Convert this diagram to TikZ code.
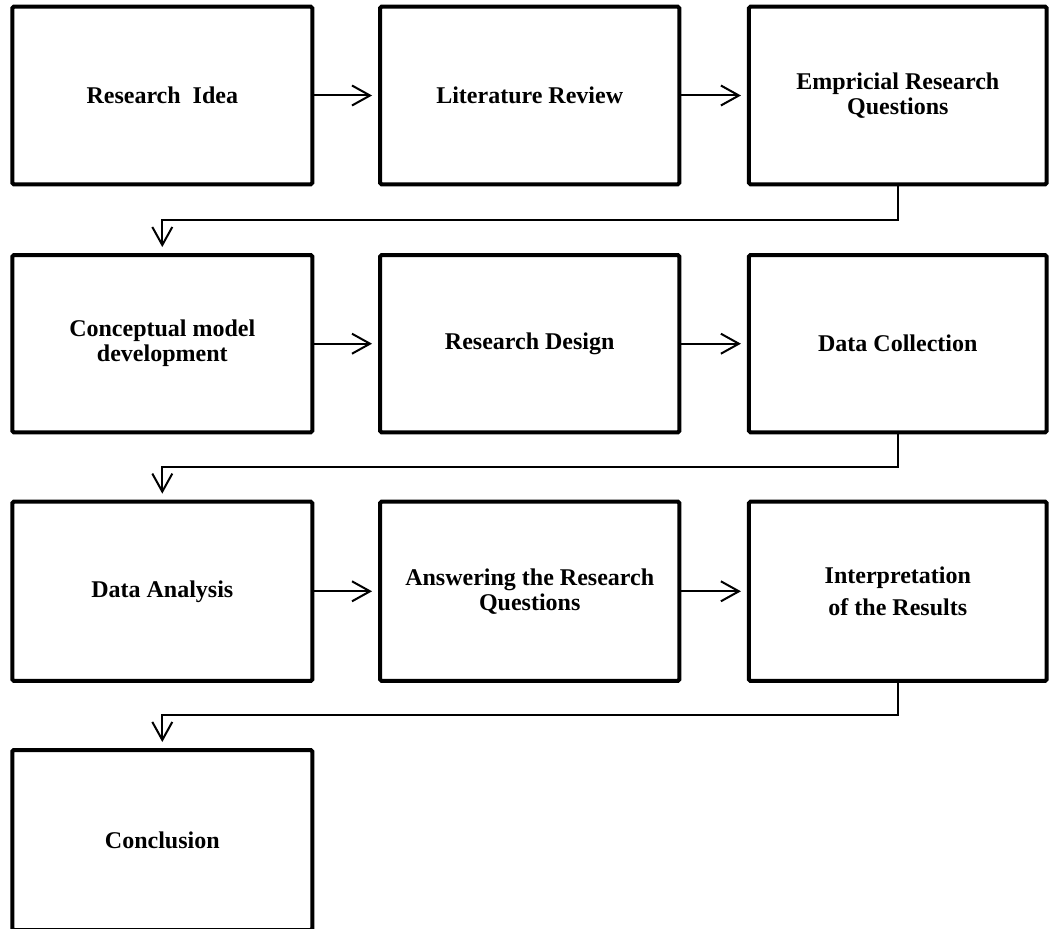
\documentclass[tikz,border=0pt]{standalone}
\usepackage{fontspec}
\setmainfont{Liberation Serif}
\usetikzlibrary{arrows.meta,calc}

\tikzset{
  stepbox/.style={draw=black, line width=4pt, rounded corners=1.5pt,
    align=center, inner sep=4pt,
    font=\fontsize{24}{25}\selectfont\bfseries},
  flow/.style={draw=black, line width=2pt,
    -{Straight Barb[length=18pt,width=20pt,line width=2pt]},
    shorten >=6pt},
  elbow/.style={flow}
}

\begin{document}
\begin{tikzpicture}[x=1pt,y=-1pt]
  \useasboundingbox (0,0) rectangle (1051,928);

  % first row
  \node[stepbox, minimum width=300pt, minimum height=177.6pt] (idea) at (162.3,95.5) {Research\ \ Idea};
  \node[stepbox, minimum width=299.3pt, minimum height=177.6pt] (lit) at (529.7,95.5) {Literature Review};
  \node[stepbox, minimum width=297.7pt, minimum height=177.6pt] (erq) at (897.8,95.5) {Empricial Research\\Questions};

  % second row
  \node[stepbox, minimum width=300pt, minimum height=177.3pt] (model) at (162.3,343.7) {Conceptual model\\development};
  \node[stepbox, minimum width=299.3pt, minimum height=177.3pt] (design) at (529.7,343.7) {Research Design};
  \node[stepbox, minimum width=297.7pt, minimum height=177.3pt] (collect) at (897.8,343.7) {Data Collection};

  % third row
  \node[stepbox, minimum width=300pt, minimum height=179.3pt] (analysis) at (162.3,591.3) {Data Analysis};
  \node[stepbox, minimum width=299.3pt, minimum height=179.3pt] (answer) at (529.7,591.3) {Answering the Research\\Questions};
  \node[stepbox, minimum width=297.7pt, minimum height=179.3pt] (interp) at (897.8,591.3) {Interpretation\\[7pt]of the Results};

  % last row, running past the lower edge
  \node[stepbox, minimum width=300pt, minimum height=180pt] (concl) at (162.3,840) {Conclusion};

  % arrows along each row
  \draw[flow] (idea) -- (lit);
  \draw[flow] (lit) -- (erq);
  \draw[flow] (model) -- (design);
  \draw[flow] (design) -- (collect);
  \draw[flow] (analysis) -- (answer);
  \draw[flow] (answer) -- (interp);

  % elbow connectors from the end of one row to the start of the next
  \draw[elbow] (erq.south) |- ($(erq.south)!0.5!(model.north)$) -| (model.north);
  \draw[elbow] (collect.south) |- ($(collect.south)!0.5!(analysis.north)$) -| (analysis.north);
  \draw[elbow] (interp.south) |- ($(interp.south)!0.5!(concl.north)$) -| (concl.north);
\end{tikzpicture}
\end{document}
